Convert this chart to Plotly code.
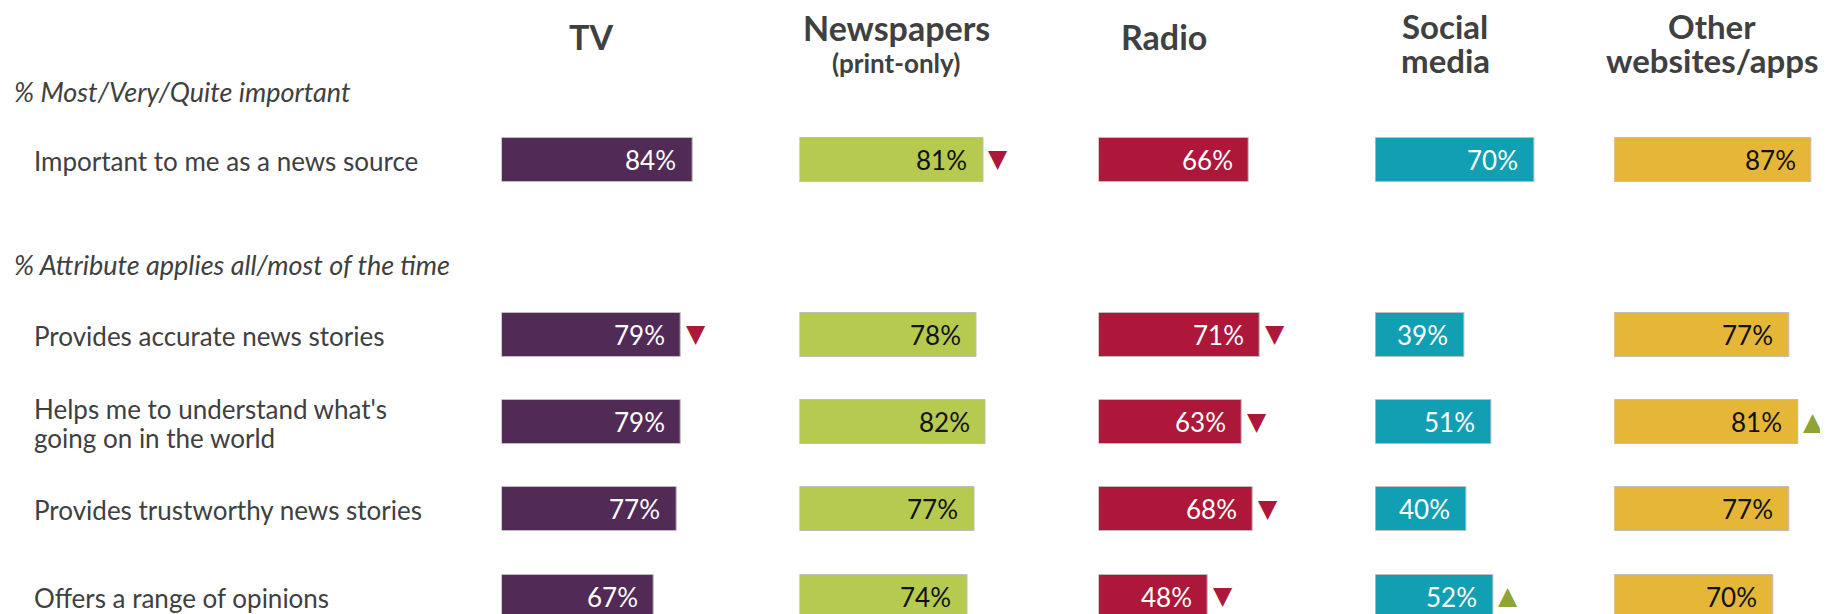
import plotly.graph_objects as go

# ---------------- data ----------------
columns = ["TV", "Newspapers", "Radio", "Social media", "Other websites/apps"]
header_line1 = ["TV", "Newspapers", "Radio", "Social", "Other"]
header_line2 = ["", "(print-only)", "", "media", "websites/apps"]

section_labels = ["% Most/Very/Quite important", "% Attribute applies all/most of the time"]
row_labels = [
    "Important to me as a news source",
    "Provides accurate news stories",
    "Helps me to understand what's<br>going on in the world",
    "Provides trustworthy news stories",
    "Offers a range of opinions",
]

tv = [84, 79, 79, 77, 67]
newspapers = [81, 78, 82, 77, 74]
radio = [66, 71, 63, 68, 48]
social = [70, 39, 51, 40, 52]
other = [87, 77, 81, 77, 70]

tv_sig = ["", "down", "", "", ""]
newspapers_sig = ["down", "", "", "", ""]
radio_sig = ["", "down", "down", "down", "down"]
social_sig = ["", "", "", "", "up"]
other_sig = ["", "", "up", "", ""]

# ---------------- styling ----------------
W, H = 1820, 606          # page body has an 8px margin
series = [tv, newspapers, radio, social, other]
sigs = [tv_sig, newspapers_sig, radio_sig, social_sig, other_sig]
bar_colors = ["#522A56", "#B6CA50", "#AD173A", "#119FB3", "#E6B638"]
text_colors = ["#FFFFFF", "#111111", "#FFFFFF", "#FFFFFF", "#111111"]
col_start_px = [493.7, 791.5, 1090.7, 1367.4, 1606.3]
px_per_unit = 2.27
x_max = 90
header_x_px = [583, 888, 1156, 1437, 1704]

FONT = "Lato, 'Open Sans', sans-serif"
GREY = "#404040"
DOWN = "#AD173A"
UP = "#8FA435"

spacer = "spacer"
cat_order = [row_labels[0], spacer] + row_labels[1:]

row_px0, row_step = 151.7, 87.44
y_top = -row_px0 / row_step
y_bot = (H - row_px0) / row_step

fig = go.Figure()
annotations = []

for k, (vals, sig) in enumerate(zip(series, sigs)):
    xa = "x" if k == 0 else f"x{k+1}"
    fig.add_trace(go.Bar(
        x=vals, y=row_labels, orientation="h",
        xaxis=xa, yaxis="y",
        width=0.503,
        marker=dict(color=bar_colors[k], line=dict(color="#BDBDBD", width=1)),
        hoverinfo="x+y", showlegend=False,
    ))
    for v, lab, s in zip(vals, row_labels, sig):
        annotations.append(dict(
            x=v, y=lab, xref=xa, yref="y", text=f"{v}%",
            xanchor="right", yanchor="middle", xshift=-14, showarrow=False,
            font=dict(family=FONT, size=26, color=text_colors[k]),
        ))
        if s:
            annotations.append(dict(
                x=v, y=lab, xref=xa, yref="y",
                text="▼" if s == "down" else "▲",
                xanchor="left", yanchor="middle", xshift=3, yshift=1, showarrow=False,
                font=dict(family="DejaVu Sans", size=25, color=DOWN if s == "down" else UP),
            ))

# row labels (multi-line labels placed line by line for tighter spacing)
line_gap = 29
for lab in row_labels:
    lines = lab.split("<br>")
    n = len(lines)
    for j, ln in enumerate(lines):
        annotations.append(dict(
            x=24 / W, y=lab, xref="paper", yref="y", text=ln, align="left",
            xanchor="left", yanchor="middle", showarrow=False,
            yshift=((n - 1) / 2 - j) * line_gap - 1,
            font=dict(family=FONT, size=26, color=GREY),
        ))

# section labels
for txt, py in zip(section_labels, [83, 256.6]):
    annotations.append(dict(
        x=4 / W, y=1 - py / H, xref="paper", yref="paper",
        text=f"<i>{txt}</i>", xanchor="left", yanchor="middle", showarrow=False,
        font=dict(family=FONT, size=27, color=GREY),
    ))

# column headers
for l1, l2, hx in zip(header_line1, header_line2, header_x_px):
    if l2 == "":
        annotations.append(dict(
            x=hx / W, y=1 - 28.7 / H, xref="paper", yref="paper", text=f"<b>{l1}</b>",
            xanchor="center", yanchor="middle", showarrow=False,
            font=dict(family=FONT, size=34, color=GREY)))
    else:
        small = l2.startswith("(")
        annotations.append(dict(
            x=hx / W, y=1 - (20 if small else 18.5) / H, xref="paper", yref="paper",
            text=f"<b>{l1}</b>",
            xanchor="center", yanchor="middle", showarrow=False,
            font=dict(family=FONT, size=34 if small else 33, color=GREY)))
        annotations.append(dict(
            x=hx / W, y=1 - (54.5 if small else 52.5) / H, xref="paper", yref="paper",
            text=f"<b>{l2}</b>",
            xanchor="center", yanchor="middle", showarrow=False,
            font=dict(family=FONT, size=26 if small else 33, color=GREY)))

layout = dict(
    width=W, height=H,
    margin=dict(l=0, r=0, t=0, b=0),
    paper_bgcolor="white", plot_bgcolor="white",
    bargap=0,
    annotations=annotations,
    yaxis=dict(
        type="category", categoryorder="array", categoryarray=cat_order,
        range=[y_bot, y_top], visible=False, domain=[0, 1],
    ),
)
for k in range(5):
    key = "xaxis" if k == 0 else f"xaxis{k+1}"
    d0 = col_start_px[k] / W
    d1 = (col_start_px[k] + x_max * px_per_unit) / W
    layout[key] = dict(
        domain=[d0, d1], range=[0, x_max], visible=False, anchor="y", fixedrange=True,
    )

fig.update_layout(**layout)
fig.write_html("out.html")
